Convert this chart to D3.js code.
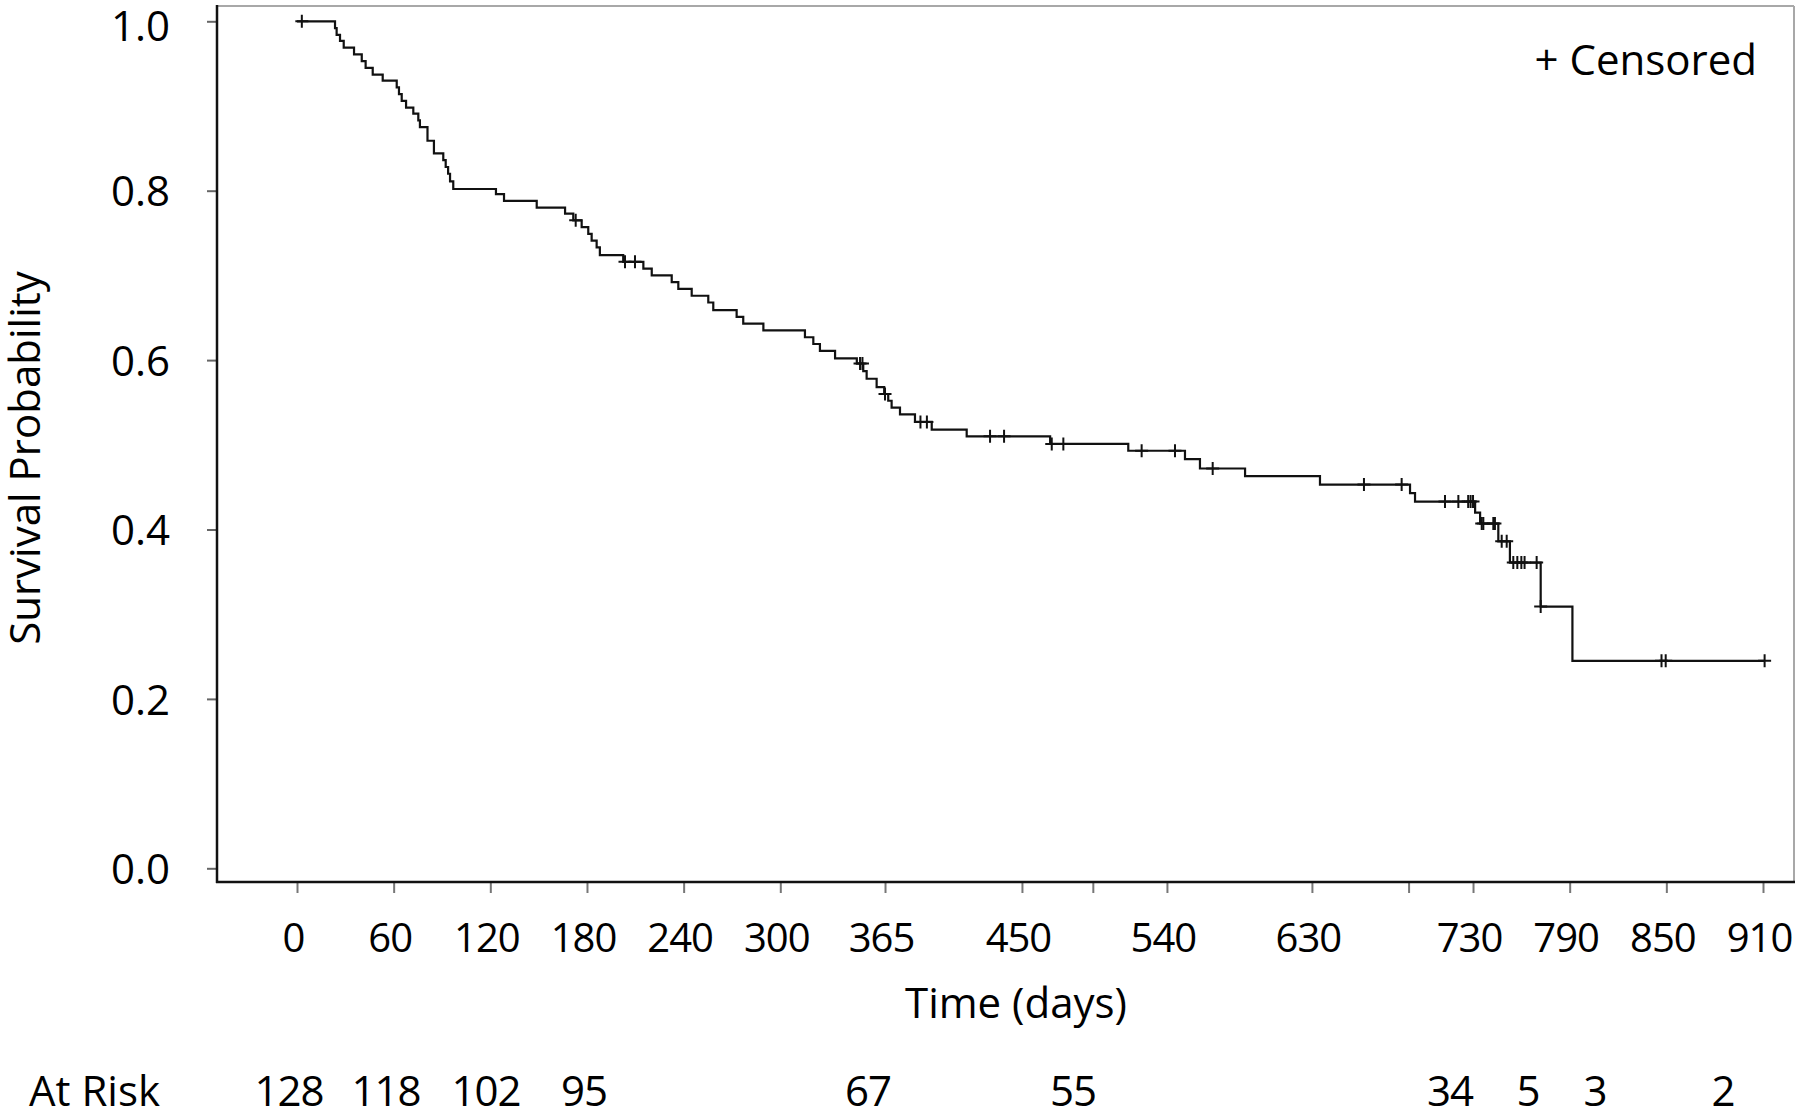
<!DOCTYPE html>
<html>
<head>
<meta charset="utf-8">
<script src="https://cdn.jsdelivr.net/npm/d3@7"></script>
<style>
  body { margin: 0; background: #fff; }
  svg text { font-family: "Open Sans", sans-serif; fill: #000; }
</style>
</head>
<body>
<div id="chart"></div>
<script>
// Kaplan-Meier curve: day of each drop and survival just after it
const eventDays = [
  23.6, 24.6, 26.7, 29.0, 35.4, 40.2, 42.6, 47.0, 53.2, 61.9, 63.3, 65.0,
  67.7, 72.2, 75.3, 76.3, 81.0, 85.0, 90.8, 92.3, 93.8, 95.0, 97.0,
  123.5, 128.5, 148.8, 166.4, 171.5, 176.7, 180.8, 182.9, 186.0, 188.0,
  202.5, 215.0, 220.2, 232.6, 236.7, 245.0, 255.3, 258.4, 272.9, 277.0,
  289.5, 315.3, 320.5, 324.6, 334.0, 347.5, 351.5, 353.6, 359.8, 364.5,
  367.0, 369.1, 374.3, 383.6, 394.0, 415.7, 467.5, 516.0, 551.2, 560.5,
  588.5, 635.0, 690.9, 694.0, 731.3, 734.4, 745.7, 752.9, 772.0, 791.7
];
const survival = [
  0.992, 0.984, 0.977, 0.969, 0.961, 0.953, 0.945, 0.937, 0.930, 0.922, 0.914, 0.906,
  0.898, 0.891, 0.883, 0.875, 0.859, 0.844, 0.836, 0.828, 0.820, 0.811, 0.802,
  0.796, 0.788, 0.780, 0.773, 0.765, 0.757, 0.749, 0.741, 0.733, 0.724,
  0.716, 0.708, 0.700, 0.692, 0.684, 0.676, 0.668, 0.659, 0.651, 0.643,
  0.635, 0.627, 0.619, 0.611, 0.602, 0.596, 0.587, 0.578, 0.568, 0.560,
  0.552, 0.544, 0.536, 0.527, 0.518, 0.510, 0.501, 0.493, 0.483, 0.472,
  0.463, 0.453, 0.443, 0.433, 0.420, 0.407, 0.386, 0.361, 0.309, 0.245
];
const lastDay = 911;

// censored observations (days)
const censorDays = [
  3, 173, 203.6, 209.8, 349.5, 351, 365, 387, 391, 430.2, 438.9, 468.5, 475.7,
  524.3, 545, 568.4, 662.3, 685.7, 712.6, 720.9, 727, 728.5, 730, 735.4, 736.4,
  742.6, 743.6, 747.8, 750.9, 755, 757.5, 760, 762, 769.5, 772, 847, 849.6, 911
];

const xTickValues = [0, 60, 120, 180, 240, 300, 365, 450, 494, 540, 630, 690, 730, 790, 850, 910];
const xTickLabels = ["0", "60", "120", "180", "240", "300", "365", "450", "", "540", "630", "", "730", "790", "850", "910"];
const yTickValues = [0, 0.2, 0.4, 0.6, 0.8, 1.0];

const atRiskDays = [-5.0, 55.3, 117.4, 178.2, 354.4, 481.7, 715.7, 764.1, 805.7, 885.2];
const atRiskCounts = [128, 118, 102, 95, 67, 55, 34, 5, 3, 2];

const width = 1800;
const height = 1113;
const frame = { left: 217, right: 1794, top: 6, bottom: 882 };

const svg = d3.select("#chart")
  .append("svg")
  .attr("width", width)
  .attr("height", height)
  .attr("viewBox", `0 0 ${width} ${height}`);

const x = d3.scaleLinear().domain([0, 910]).range([297, 1763]);
const y = d3.scaleLinear().domain([0, 1]).range([868.3, 21.3]);

// frame: top and right sides are light grey
svg.append("line")
  .attr("x1", frame.left).attr("x2", frame.right)
  .attr("y1", frame.top).attr("y2", frame.top)
  .attr("stroke", "#a8a8a8").attr("stroke-width", 2);
svg.append("line")
  .attr("x1", frame.right).attr("x2", frame.right)
  .attr("y1", frame.top).attr("y2", frame.bottom)
  .attr("stroke", "#a8a8a8").attr("stroke-width", 2);

// x axis
const xAxis = d3.axisBottom(x)
  .tickValues(xTickValues)
  .tickSize(11)
  .tickSizeOuter(0)
  .tickFormat((d, i) => xTickLabels[i]);

const gx = svg.append("g")
  .attr("transform", `translate(0,${frame.bottom})`)
  .call(xAxis);
gx.select(".domain").remove();
gx.selectAll(".tick line").attr("stroke", "#777").attr("stroke-width", 2);
gx.selectAll(".tick text")
  .attr("y", 70)
  .attr("dy", 0)
  .attr("dx", -4)
  .attr("font-size", 40)
  .attr("letter-spacing", -1)
  .attr("fill", "#000");

// y axis
const yAxis = d3.axisLeft(y)
  .tickValues(yTickValues)
  .tickSize(10)
  .tickSizeOuter(0)
  .tickFormat(d3.format(".1f"));

const gy = svg.append("g")
  .attr("transform", `translate(${frame.left},0)`)
  .call(yAxis);
gy.select(".domain").remove();
gy.selectAll(".tick line").attr("stroke", "#666").attr("stroke-width", 2);
gy.selectAll(".tick text")
  .attr("x", -47)
  .attr("y", (d) => (d === 1 ? 4 : 0))
  .attr("dy", "0.36em")
  .attr("font-size", 42)
  .attr("fill", "#000");

// left and bottom axis lines
svg.append("line")
  .attr("x1", frame.left).attr("x2", frame.left)
  .attr("y1", frame.top - 1).attr("y2", frame.bottom + 1)
  .attr("stroke", "#111").attr("stroke-width", 2.5);
svg.append("line")
  .attr("x1", frame.left - 1).attr("x2", frame.right + 1)
  .attr("y1", frame.bottom).attr("y2", frame.bottom)
  .attr("stroke", "#111").attr("stroke-width", 2.5);

// survival step curve
const points = [[0, 1]]
  .concat(eventDays.map((d, i) => [d, survival[i]]))
  .concat([[lastDay, survival[survival.length - 1]]]);

const line = d3.line()
  .x((d) => x(d[0]))
  .y((d) => y(d[1]))
  .curve(d3.curveStepAfter);

svg.append("path")
  .datum(points)
  .attr("d", line)
  .attr("fill", "none")
  .attr("stroke", "#111")
  .attr("stroke-width", 2.2);

// survival at a given day (step function)
function survivalAt(t) {
  let s = 1;
  eventDays.forEach((d, i) => {
    if (d <= t) s = survival[i];
  });
  return s;
}

svg.append("g")
  .selectAll("path")
  .data(censorDays)
  .enter()
  .append("path")
  .attr("transform", (d) => `translate(${x(d)},${y(survivalAt(d))})`)
  .attr("d", "M-6.5,0H6.5M0,-6.5V6.5")
  .attr("stroke", "#111")
  .attr("stroke-width", 2)
  .attr("fill", "none");

// legend
svg.append("text")
  .attr("x", 1757)
  .attr("y", 75)
  .attr("text-anchor", "end")
  .attr("font-size", 42)
  .text("+ Censored");

// axis titles
svg.append("text")
  .attr("x", 1016)
  .attr("y", 1018)
  .attr("text-anchor", "middle")
  .attr("font-size", 42)
  .text("Time (days)");

svg.append("text")
  .attr("transform", "translate(40,458) rotate(-90)")
  .attr("text-anchor", "middle")
  .attr("font-size", 42)
  .text("Survival Probability");

// number at risk row
svg.append("text")
  .attr("x", 29)
  .attr("y", 1106)
  .attr("font-size", 42)
  .text("At Risk");

svg.append("g")
  .selectAll("text")
  .data(atRiskCounts)
  .enter()
  .append("text")
  .attr("x", (d, i) => x(atRiskDays[i]))
  .attr("y", 1106)
  .attr("text-anchor", "middle")
  .attr("font-size", 42)
  .attr("letter-spacing", -1)
  .text((d) => d);
</script>
</body>
</html>
